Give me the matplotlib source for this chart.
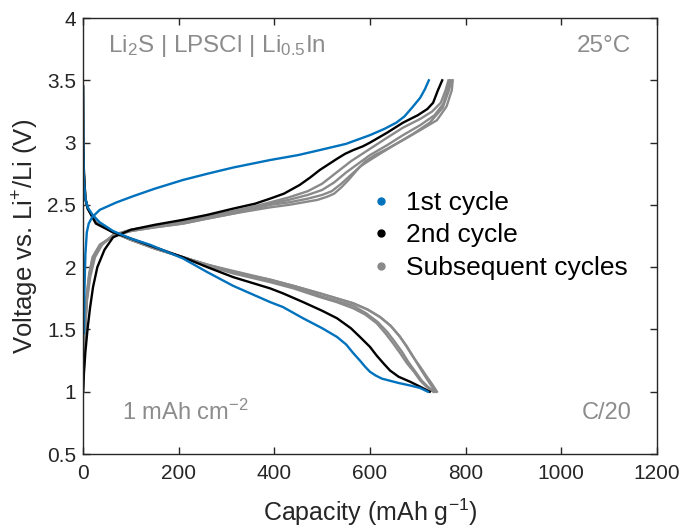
import matplotlib
matplotlib.use("Agg")
import matplotlib.pyplot as plt
from matplotlib.lines import Line2D

plt.rcParams['font.family'] = ['Liberation Sans', 'DejaVu Sans']
plt.rcParams['mathtext.fontset'] = 'custom'
plt.rcParams['mathtext.rm'] = 'Liberation Sans'
plt.rcParams['mathtext.it'] = 'Liberation Sans'
plt.rcParams['mathtext.default'] = 'regular'

BLUE = '#0072BD'
BLACK = '#000000'
GRAY = '#8a8a8a'
ANN = '#8c8c8c'

# ---- 1st cycle ----
c1_chg_cap = [2, 3, 5, 8, 12, 19, 35, 70, 105, 150, 209, 260, 314, 391, 450, 495, 550, 600, 630, 655, 672, 690, 705, 715, 723]
c1_chg_v = [1.47, 1.80, 2.10, 2.28, 2.35, 2.40, 2.46, 2.52, 2.57, 2.63, 2.70, 2.75, 2.80, 2.86, 2.90, 2.94, 2.99, 3.06, 3.11, 3.16, 3.21, 3.29, 3.36, 3.43, 3.50]
c1_dis_cap = [0, 0.5, 2, 5, 10, 20, 35, 63, 100, 140, 209, 260, 314, 391, 418, 460, 500, 531, 550, 565, 579, 590, 600, 612, 625, 640, 660, 684, 705, 721]
c1_dis_v = [3.45, 3.00, 2.70, 2.55, 2.48, 2.42, 2.36, 2.29, 2.23, 2.18, 2.07, 1.96, 1.85, 1.72, 1.68, 1.59, 1.51, 1.44, 1.38, 1.31, 1.25, 1.20, 1.16, 1.13, 1.105, 1.09, 1.07, 1.05, 1.03, 1.00]

# ---- 2nd cycle ----
c2_chg_cap = [0, 2, 5, 10, 15, 21, 30, 45, 63, 100, 150, 209, 260, 314, 360, 391, 420, 453, 475, 495, 515, 531, 548, 565, 585, 600, 636, 669, 700, 720, 732, 742, 751]
c2_chg_v = [1.00, 1.15, 1.32, 1.52, 1.68, 1.84, 2.00, 2.14, 2.24, 2.30, 2.34, 2.38, 2.42, 2.47, 2.51, 2.55, 2.59, 2.66, 2.72, 2.78, 2.83, 2.87, 2.91, 2.94, 2.97, 3.00, 3.08, 3.16, 3.22, 3.27, 3.32, 3.42, 3.50]
c2_dis_cap = [0, 0.5, 2, 5, 10, 27, 63, 100, 150, 209, 260, 314, 391, 418, 460, 500, 531, 560, 579, 600, 614, 630, 642, 660, 684, 705, 725]
c2_dis_v = [3.45, 3.00, 2.75, 2.55, 2.47, 2.35, 2.28, 2.23, 2.16, 2.08, 2.00, 1.92, 1.83, 1.79, 1.72, 1.65, 1.59, 1.51, 1.44, 1.36, 1.29, 1.22, 1.17, 1.12, 1.08, 1.04, 1.00]

# ---- subsequent cycles (3-6) ----
c3_chg_cap = [0, 2, 4, 8, 15, 25, 40, 63, 100, 150, 209, 260, 314, 360, 391, 430, 470, 500, 530, 560, 600, 636, 669, 705, 730, 748, 758, 764]
c3_chg_v = [1.00, 1.20, 1.45, 1.72, 1.92, 2.08, 2.18, 2.26, 2.30, 2.33, 2.37, 2.41, 2.45, 2.49, 2.52, 2.56, 2.61, 2.67, 2.76, 2.85, 2.95, 3.04, 3.12, 3.19, 3.25, 3.32, 3.42, 3.50]
c3_dis_cap = [0, 0.5, 2, 5, 10, 27, 63, 100, 150, 209, 260, 314, 391, 440, 495, 530, 565, 590, 614, 632, 648, 663, 677, 692, 705, 718, 732]
c3_dis_v = [3.45, 3.00, 2.75, 2.55, 2.47, 2.36, 2.28, 2.22, 2.15, 2.08, 2.01, 1.95, 1.88, 1.83, 1.76, 1.72, 1.67, 1.62, 1.55, 1.47, 1.39, 1.31, 1.23, 1.16, 1.09, 1.04, 1.00]

c4_chg_cap = [0, 2, 4, 8, 14, 23, 38, 63, 100, 150, 209, 260, 314, 360, 391, 430, 470, 500, 525, 550, 575, 600, 636, 669, 705, 735, 753, 762, 767]
c4_chg_v = [1.00, 1.22, 1.47, 1.74, 1.93, 2.08, 2.18, 2.25, 2.30, 2.33, 2.36, 2.40, 2.44, 2.48, 2.51, 2.54, 2.58, 2.62, 2.68, 2.76, 2.83, 2.90, 2.98, 3.06, 3.14, 3.22, 3.31, 3.42, 3.50]
c4_dis_cap = [0, 0.5, 2, 5, 10, 27, 63, 100, 150, 209, 260, 314, 391, 440, 495, 530, 565, 592, 616, 636, 652, 667, 680, 695, 708, 721, 735]
c4_dis_v = [3.45, 3.00, 2.75, 2.55, 2.47, 2.36, 2.28, 2.22, 2.15, 2.08, 2.02, 1.96, 1.89, 1.84, 1.77, 1.73, 1.69, 1.63, 1.56, 1.48, 1.40, 1.32, 1.24, 1.16, 1.09, 1.04, 1.00]

c5_chg_cap = [0, 2, 4, 8, 13, 21, 36, 63, 100, 150, 209, 260, 314, 360, 391, 430, 470, 500, 520, 540, 560, 580, 600, 625, 655, 690, 725, 752, 765, 770]
c5_chg_v = [1.00, 1.24, 1.49, 1.76, 1.94, 2.08, 2.18, 2.25, 2.29, 2.32, 2.35, 2.39, 2.43, 2.47, 2.50, 2.52, 2.55, 2.58, 2.61, 2.67, 2.74, 2.81, 2.86, 2.92, 2.99, 3.07, 3.16, 3.28, 3.42, 3.50]
c5_dis_cap = [0, 0.5, 2, 5, 10, 27, 63, 100, 150, 209, 260, 314, 391, 440, 495, 530, 565, 595, 621, 643, 661, 676, 689, 703, 716, 728, 738]
c5_dis_v = [3.45, 3.00, 2.75, 2.55, 2.47, 2.36, 2.28, 2.22, 2.15, 2.08, 2.02, 1.96, 1.90, 1.85, 1.79, 1.75, 1.71, 1.66, 1.60, 1.53, 1.45, 1.37, 1.29, 1.20, 1.12, 1.05, 1.00]

c6_chg_cap = [0, 2, 4, 8, 13, 20, 35, 63, 100, 150, 209, 260, 314, 360, 391, 430, 460, 490, 510, 525, 540, 555, 573, 590, 610, 636, 669, 705, 740, 760, 771, 773]
c6_chg_v = [1.00, 1.25, 1.50, 1.78, 1.95, 2.08, 2.18, 2.25, 2.29, 2.32, 2.35, 2.39, 2.43, 2.46, 2.48, 2.50, 2.52, 2.54, 2.565, 2.59, 2.64, 2.70, 2.78, 2.85, 2.90, 2.95, 3.02, 3.10, 3.18, 3.29, 3.42, 3.50]
c6_dis_cap = [0, 0.5, 2, 5, 10, 27, 63, 100, 150, 209, 260, 314, 391, 440, 495, 530, 565, 595, 621, 643, 663, 677, 690, 705, 719, 730, 740]
c6_dis_v = [3.45, 3.00, 2.75, 2.55, 2.47, 2.36, 2.28, 2.22, 2.15, 2.08, 2.02, 1.97, 1.90, 1.85, 1.79, 1.75, 1.71, 1.66, 1.60, 1.53, 1.44, 1.36, 1.28, 1.20, 1.12, 1.06, 1.00]

legend_labels = ['1st cycle', '2nd cycle', 'Subsequent cycles']
x_ticks = [0, 200, 400, 600, 800, 1000, 1200]
y_ticks = [0.5, 1, 1.5, 2, 2.5, 3, 3.5, 4]
y_tick_labels = ['0.5', '1', '1.5', '2', '2.5', '3', '3.5', '4']

fig = plt.figure(figsize=(6.83, 5.31), dpi=100)
ax = fig.add_axes([0.1215, 0.145, 0.8404, 0.821])

lw = 1.7
subsequent = [(c3_chg_cap, c3_chg_v, c3_dis_cap, c3_dis_v),
              (c4_chg_cap, c4_chg_v, c4_dis_cap, c4_dis_v),
              (c5_chg_cap, c5_chg_v, c5_dis_cap, c5_dis_v),
              (c6_chg_cap, c6_chg_v, c6_dis_cap, c6_dis_v)]
for cc, cv, dc, dv in subsequent[::-1]:
    ax.plot(cc, cv, color=GRAY, lw=lw, solid_joinstyle='round')
    ax.plot(dc, dv, color=GRAY, lw=lw, solid_joinstyle='round')
ax.plot(c2_chg_cap, c2_chg_v, color=BLACK, lw=lw, solid_joinstyle='round')
ax.plot(c2_dis_cap, c2_dis_v, color=BLACK, lw=lw, solid_joinstyle='round')
ax.plot(c1_chg_cap, c1_chg_v, color=BLUE, lw=lw, solid_joinstyle='round')
ax.plot(c1_dis_cap, c1_dis_v, color=BLUE, lw=lw, solid_joinstyle='round')

ax.set_xlim(0, 1200)
ax.set_ylim(0.5, 4)
ax.set_xticks(x_ticks)
ax.set_xticklabels([str(t) for t in x_ticks])
ax.set_yticks(y_ticks)
ax.set_yticklabels(y_tick_labels)
ax.tick_params(direction='in', length=5, width=1, top=True, right=True,
               labelsize=15, colors='#262626')
ax.tick_params(axis='x', pad=7)
ax.tick_params(axis='y', pad=5)
for s in ax.spines.values():
    s.set_linewidth(1.0)
    s.set_color('#262626')

ax.set_xlabel('Capacity (mAh g$^{-1}$)', fontsize=18, color='#262626', labelpad=10)
ax.set_ylabel('Voltage vs. Li$^{+}$/Li (V)', fontsize=18.5, color='#262626', labelpad=4)

ax.text(0.043, 0.935, 'Li$_2$S | LPSCl | Li$_{0.5}$In', transform=ax.transAxes,
        fontsize=17.5, color=ANN, ha='left', va='center')
ax.text(0.955, 0.935, '25°C', transform=ax.transAxes,
        fontsize=17.5, color=ANN, ha='right', va='center')
ax.text(0.068, 0.095, '1 mAh cm$^{-2}$', transform=ax.transAxes,
        fontsize=17, color=ANN, ha='left', va='center')
ax.text(0.955, 0.095, 'C/20', transform=ax.transAxes,
        fontsize=17, color=ANN, ha='right', va='center')

handles = [Line2D([], [], ls='none', marker='o', ms=5, color=c, mec=c)
           for c in (BLUE, BLACK, GRAY)]
ax.legend(handles, legend_labels, loc='upper left', bbox_to_anchor=(0.468, 0.646),
          frameon=False, fontsize=19, handlelength=0.8, handletextpad=0.55,
          labelspacing=0.32, borderpad=0.2)

fig.savefig('out.png', dpi=100)
